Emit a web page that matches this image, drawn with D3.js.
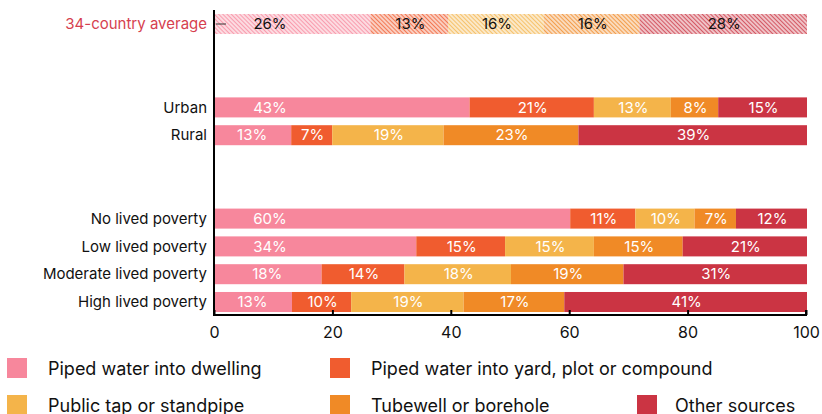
<!DOCTYPE html>
<html>
<head>
<meta charset="utf-8">
<script src="https://cdn.jsdelivr.net/npm/d3@7"></script>
<style>
  body { margin: 0; background: #fff; }
  text { font-family: Inter, Roboto, "Liberation Sans", sans-serif; }
</style>
</head>
<body>
<svg id="chart" width="822" height="414"></svg>
<script>
const categories = ["34-country average", "_gap1", "_gap2", "Urban", "Rural", "_gap3", "_gap4",
  "No lived poverty", "Low lived poverty", "Moderate lived poverty", "High lived poverty"];

const sources = ["Piped water into dwelling", "Piped water into yard, plot or compound",
  "Public tap or standpipe", "Tubewell or borehole", "Other sources"];

const dwelling  = [26, 43, 13, 60, 34, 18, 13];
const yard      = [13, 21, 7, 11, 15, 14, 10];
const publicTap = [16, 13, 19, 10, 15, 18, 19];
const tubewell  = [16, 8, 23, 7, 15, 19, 17];
const other     = [28, 15, 39, 12, 21, 31, 41];
const rowNames  = ["34-country average", "Urban", "Rural", "No lived poverty",
  "Low lived poverty", "Moderate lived poverty", "High lived poverty"];

const xTicks = [0, 20, 40, 60, 80, 100];
const colors = ["#f7879c", "#f05c2f", "#f4b44a", "#f08a26", "#cb3443"];

const svg = d3.select("#chart");
const margin = { top: 14, right: 16, bottom: 102, left: 214 };

const series = [dwelling, yard, publicTap, tubewell, other];
const data = rowNames.map((name, i) => {
  const row = { name };
  sources.forEach((s, j) => { row[s] = series[j][i]; });
  return row;
});

const stacked = d3.stack().keys(sources).offset(d3.stackOffsetExpand)(data);

const x = d3.scaleLinear().domain([0, 1]).range([margin.left, 806]);
const y = d3.scaleBand().domain(categories).range([14, 312]).paddingInner(0.28).paddingOuter(0);
const color = d3.scaleOrdinal().domain(sources).range(colors);

// hatch patterns for the average row
const defs = svg.append("defs");
sources.forEach((s, i) => {
  const p = defs.append("pattern")
    .attr("id", "hatch" + i)
    .attr("patternUnits", "userSpaceOnUse")
    .attr("width", 3).attr("height", 3)
    .attr("patternTransform", "rotate(-45)");
  p.append("rect").attr("width", 3).attr("height", 3).attr("fill", color(s)).attr("opacity", 0.3);
  p.append("line").attr("x1", 0.5).attr("y1", 0).attr("x2", 0.5).attr("y2", 3)
    .attr("stroke", color(s)).attr("stroke-width", 1).attr("opacity", 0.75);
});

const layer = svg.append("g").selectAll("g")
  .data(stacked)
  .join("g");

layer.selectAll("rect")
  .data(d => d.map(v => ({ v, key: d.key, idx: d.index })))
  .join("rect")
  .attr("x", d => x(d.v[0]) + 1)
  .attr("y", d => y(d.v.data.name))
  .attr("width", d => x(d.v[1]) - x(d.v[0]))
  .attr("height", y.bandwidth())
  .attr("fill", d => d.v.data.name === rowNames[0] ? `url(#hatch${d.idx})` : color(d.key));

layer.selectAll("text")
  .data(d => d.map(v => ({ v, key: d.key, idx: d.index })))
  .join("text")
  .attr("x", d => {
    const x0 = x(d.v[0]), w = x(d.v[1]) - x0;
    return d.idx === 0 ? x0 + Math.min(w / 2, 56) : x0 + w / 2 + 2;
  })
  .attr("y", d => y(d.v.data.name) + y.bandwidth() / 2)
  .attr("dy", "0.35em")
  .attr("text-anchor", "middle")
  .attr("font-size", 15)
  .attr("fill", d => d.v.data.name === rowNames[0] ? "#111" : "#fff")
  .text(d => d.v.data[d.key] + "%");

// small tick inside the average row
svg.append("line")
  .attr("x1", x(0) + 2).attr("x2", x(0) + 12)
  .attr("y1", y(rowNames[0]) + y.bandwidth() / 2)
  .attr("y2", y(rowNames[0]) + y.bandwidth() / 2)
  .attr("stroke", "#333").attr("stroke-width", 1);

// y axis
svg.append("line")
  .attr("x1", x(0)).attr("x2", x(0))
  .attr("y1", 10).attr("y2", 316)
  .attr("stroke", "#000").attr("stroke-width", 2);

svg.append("g").selectAll("text")
  .data(rowNames)
  .join("text")
  .attr("x", 207)
  .attr("y", d => y(d) + y.bandwidth() / 2)
  .attr("dy", "0.35em")
  .attr("text-anchor", "end")
  .attr("font-size", 15)
  .attr("fill", (d, i) => i === 0 ? "#d63f4f" : "#111")
  .text(d => d);

// x axis
const xAxis = svg.append("g")
  .attr("transform", "translate(0,315)")
  .call(d3.axisBottom(x).tickValues(xTicks.map(t => t / 100)).tickFormat(d => Math.round(d * 100))
    .tickSize(-5).tickPadding(12));
xAxis.select(".domain").attr("stroke-width", 2).attr("d", `M${x(0)},-5V0H${x(1)}V-5`);
xAxis.selectAll(".tick line").attr("stroke-width", 2);
xAxis.selectAll(".tick text").attr("font-size", 16).attr("fill", "#111")
  .style("font-family", "Inter, Roboto, 'Liberation Sans', sans-serif");

// legend
const legendRows = [[0, 1], [2, 3, 4]];
const legendCols = [7, 330, 637];
const legendY = [358, 395];
legendRows.forEach((row, r) => {
  row.forEach((k, c) => {
    const g = svg.append("g").attr("transform", `translate(${legendCols[c]},${legendY[r]})`);
    g.append("rect").attr("width", 20).attr("height", 20).attr("fill", color(sources[k]));
    g.append("text")
      .attr("x", c === 2 ? 38 : 41)
      .attr("y", 11)
      .attr("dy", "0.35em")
      .attr("font-size", 18)
      .attr("fill", "#111")
      .text(sources[k]);
  });
});
</script>
</body>
</html>
